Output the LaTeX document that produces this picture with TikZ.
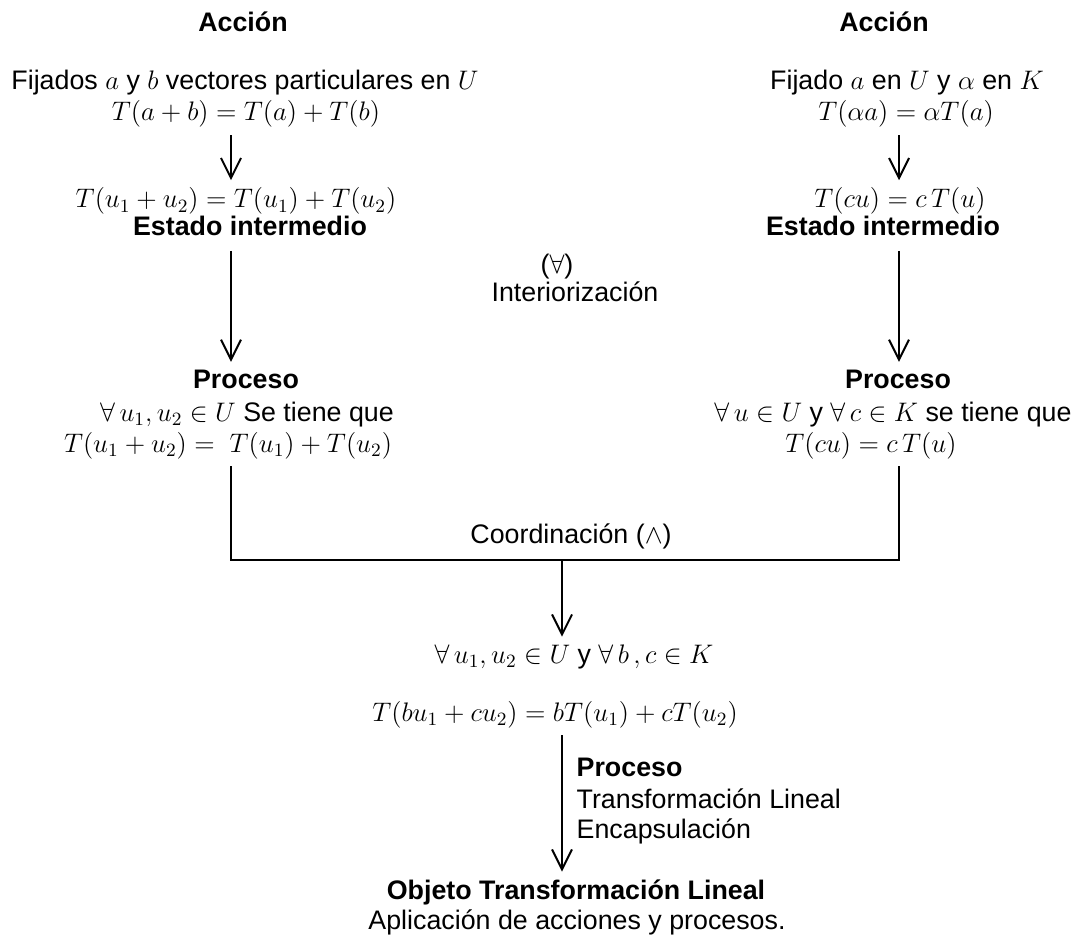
\RequirePackage{fix-cm}
\documentclass[tikz,border=0pt]{standalone}
\usepackage[no-math]{fontspec}
\setmainfont{Liberation Sans}
\usetikzlibrary{arrows.meta}

\begin{document}
\begin{tikzpicture}[x=0.5pt,y=-0.5pt,line width=1pt,
    lbl/.style={anchor=base,font=\fontsize{13.4}{15}\selectfont},
    hd/.style={lbl,font=\fontsize{13.4}{15}\selectfont\bfseries},
    arr/.style={-{Straight Barb[length=10pt,width=10pt]}}]
    \useasboundingbox (0,0) rectangle (1075,936);
    % columns
    \coordinate (colL) at (231,0);
    \coordinate (colM) at (562,0);
    \coordinate (colR) at (899,0);
    % left column
    \node[hd]  (accL) at (243,32)  {Acción};
    \node[lbl] (fixL) at (245,90)  {Fijados $a$ y $b$ vectores particulares en $U$};
    \node[lbl] (sumL) at (246,121) {$T(a+b)=T(a)+T(b)$};
    \node[lbl] (intL) at (236,208) {$T(u_1+u_2)=T(u_1)+T(u_2)$};
    \node[hd]  (estL) at (250,235) {Estado intermedio};
    \node[hd]  (prcL) at (246,388) {Proceso};
    \node[lbl] (allL) at (247,421) {$\forall\, u_1,u_2\in U$ Se tiene que};
    \node[lbl] (eqL)  at (228,452) {$T(u_1+u_2)=\ T(u_1)+T(u_2)$};
    % right column
    \node[hd]  (accR) at (884,32)  {Acción};
    \node[lbl] (fixR) at (907,90)  {Fijado $a$ en $U$ y $\alpha$ en $K$};
    \node[lbl] (sumR) at (906,121) {$T(\alpha a)=\alpha T(a)$};
    \node[lbl] (intR) at (900,208) {$T(cu)=c\,T(u)$};
    \node[hd]  (estR) at (883,235) {Estado intermedio};
    \node[hd]  (prcR) at (898,388) {Proceso};
    \node[lbl] (allR) at (893,421) {$\forall\, u\in U$ y $\forall\, c\in K$ se tiene que};
    \node[lbl] (eqR)  at (871,452) {$T(cu)=c\,T(u)$};
    % middle
    \node[lbl] (intzA) at (557,273) {($\forall$)};
    \node[lbl] (intzB) at (575,301) {Interiorización};
    \node[lbl] (coord) at (571,543) {Coordinación ($\wedge$)};
    \node[lbl] (allM)  at (574,663) {$\forall\, u_1,u_2\in U$ y $\forall\, b\,,c\in K$};
    \node[lbl] (eqM)   at (555,721) {$T(bu_1+cu_2)=bT(u_1)+cT(u_2)$};
    \node[hd,anchor=base west]  (prcM) at (569,776) {Proceso};
    \node[lbl,anchor=base west] (trfM) at (569,808) {Transformación Lineal};
    \node[lbl,anchor=base west] (encM) at (569,838) {Encapsulación};
    \node[hd]  (objM) at (576,899) {Objeto Transformación Lineal};
    \node[lbl] (appM) at (577,929) {Aplicación de acciones y procesos.};
    % links
    \coordinate (brL) at (231,560);
    \coordinate (brR) at (899,560);
    \coordinate (brM) at (colM |- brL);
    \draw[arr] (sumL.south -| colL) -- (intL.north -| colL);
    \draw[arr,shorten <=4pt] (estL.south -| colL) -- (prcL.north -| colL);
    \draw[arr] (sumR.south -| colR) -- (intR.north -| colR);
    \draw[arr,shorten <=4pt] (estR.south -| colR) -- (prcR.north -| colR);
    \draw (eqL.south -| colL) -- (brL) -- (brR) -- (eqR.south -| colR);
    \draw[arr] (brM) -- (allM.north -| colM);
    \draw[arr] (eqM.south -| colM) -- (objM.north -| colM);
\end{tikzpicture}
\end{document}
